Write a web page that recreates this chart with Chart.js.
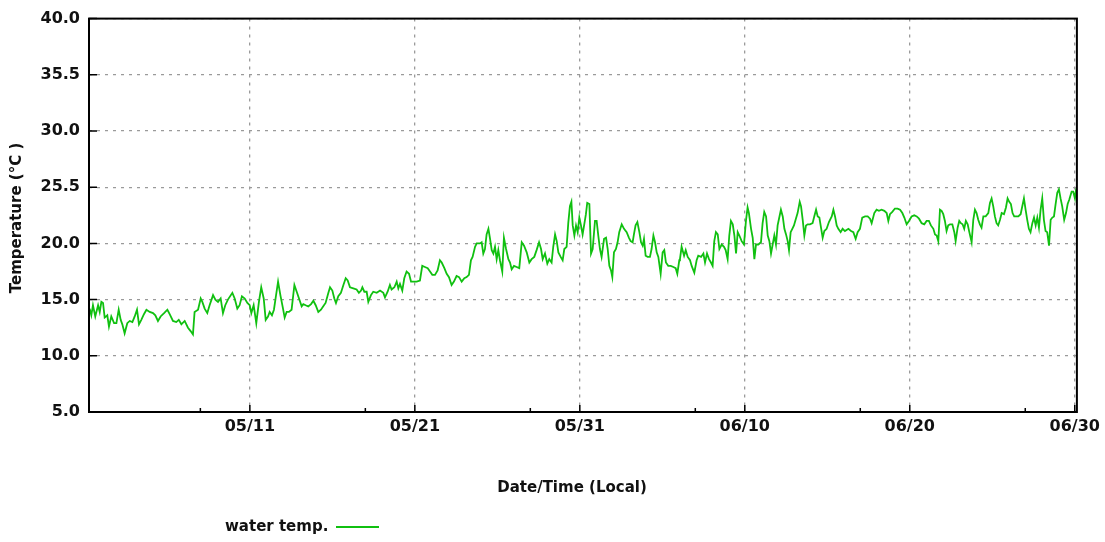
<!DOCTYPE html>
<html>
<head>
<meta charset="utf-8">
<script src="https://cdn.jsdelivr.net/npm/chart.js@4/dist/chart.umd.min.js"></script>
<style>
html,body{margin:0;padding:0;background:#fff;}
#wrap{width:1105px;height:542px;position:relative;}
canvas{display:block;}
</style>
</head>
<body>
<div id="wrap"><canvas id="c" width="1105" height="542"></canvas></div>
<script>
// Days since 05/01 00:00 (local)
const sampleDays = [
0.29,0.39,0.49,0.63,0.80,0.90,1.00,1.10,1.20,1.36,1.46,1.60,1.77,1.91,2.05,2.17,2.27,2.41,2.57,2.72,2.88,3.02,3.16,3.28,3.42,3.58,3.73,3.93,4.13,4.27,4.43,4.59,4.80,5.00,5.14,5.34,5.54,5.69,5.85,6.05,6.25,6.41,6.55,6.65,6.86,7.02,7.12,7.26,7.42,7.56,7.77,7.91,8.07,8.23,8.37,8.51,8.67,8.94,9.08,9.24,9.38,9.52,9.69,9.85,9.99,10.09,10.23,10.39,10.55,10.69,10.84,10.96,11.10,11.20,11.34,11.46,11.56,11.71,11.85,12.01,12.11,
12.23,12.37,12.53,12.70,12.84,12.98,13.14,13.24,13.38,13.54,13.71,13.85,13.99,14.15,14.31,14.45,14.59,14.76,14.86,15.00,15.12,15.22,15.36,15.52,15.67,15.81,15.93,16.07,16.27,16.47,16.61,16.74,16.82,16.94,17.08,17.18,17.34,17.48,17.69,17.89,18.09,18.19,18.35,18.49,18.59,18.76,18.90,19.00,19.10,19.24,19.36,19.50,19.65,19.77,19.91,20.11,20.31,20.45,20.61,20.78,20.92,21.06,21.22,21.38,21.52,21.63,21.79,21.93,22.07,22.23,22.37,22.53,22.68,22.84,23.00,23.14,23.28,23.40,23.50,23.65,23.75,23.95,
24.05,24.15,24.25,24.35,24.46,24.56,24.66,24.76,24.86,24.96,25.06,25.16,25.30,25.40,25.53,25.67,25.77,25.87,26.01,26.17,26.33,26.48,26.62,26.78,26.94,27.08,27.24,27.38,27.53,27.65,27.75,27.89,28.03,28.15,28.29,28.39,28.50,28.60,28.70,28.84,28.96,29.06,29.20,29.30,29.40,29.49,29.57,29.67,29.77,29.87,29.97,30.07,30.17,30.27,30.37,30.45,30.58,30.62,30.68,30.78,30.92,31.02,31.12,31.22,31.32,31.47,31.59,31.69,31.79,31.89,31.97,32.07,32.19,32.29,32.39,32.54,32.68,32.84,32.98,33.08,33.20,33.28,33.38,33.49,33.61,33.71,33.81,33.89,33.99,34.11,34.25,34.35,34.46,34.56,34.66,34.76,34.90,35.02,35.12,35.22,35.36,35.51,35.67,35.81,35.91,36.03,
36.07,36.17,36.32,36.42,36.54,36.68,36.78,36.94,37.08,37.18,37.35,37.49,37.59,37.71,37.83,37.95,38.05,38.15,38.25,38.36,38.46,38.60,38.74,38.84,38.96,39.06,39.16,39.27,39.37,39.47,39.57,39.67,39.81,39.95,40.07,40.17,40.25,40.38,40.48,40.58,40.68,40.82,40.98,41.08,41.18,41.29,41.39,41.49,41.59,41.69,41.79,41.89,41.99,42.09,42.19,42.30,42.40,42.50,42.60,42.68,42.78,42.88,42.98,43.08,43.20,43.33,43.41,43.51,43.61,43.71,43.81,43.95,44.11,44.21,44.32,44.42,44.52,44.62,44.72,44.82,44.96,45.10,45.27,45.37,45.47,45.57,45.67,45.81,45.93,46.07,46.28,46.44,46.58,46.72,46.84,46.98,47.12,47.29,47.45,47.59,47.69,47.85,47.99,
48.13,48.29,48.46,48.60,48.70,48.80,48.94,49.10,49.26,49.41,49.55,49.67,49.81,49.95,50.11,50.27,50.42,50.56,50.72,50.88,51.02,51.16,51.28,51.43,51.53,51.63,51.73,51.83,51.93,52.03,52.13,52.23,52.33,52.44,52.58,52.70,52.78,52.90,53.00,53.10,53.20,53.30,53.40,53.51,53.61,53.75,53.85,53.95,54.05,54.15,54.25,54.35,54.46,54.60,54.76,54.86,54.96,55.06,55.16,55.26,55.36,55.47,55.57,55.71,55.83,55.93,56.03,56.13,56.23,56.33,56.44,56.58,56.72,56.82,56.92,57.02,57.12,57.22,57.32,57.43,57.53,57.63,57.73,57.83,57.93,58.03,58.13,58.23,58.33,58.44,58.54,58.64,58.74,58.84,58.94,59.04,59.14,59.24,59.36,59.47,59.57,59.67,59.81,59.91,60.01,60.09
];

// Water temperature (°C)
const waterTemps = [
14.2,13.6,14.5,13.5,14.5,13.9,14.8,14.7,13.4,13.6,12.6,13.5,12.9,12.9,14.1,13.2,12.8,12.0,12.9,13.1,13.0,13.5,14.1,12.8,13.2,13.7,14.1,13.9,13.8,13.6,13.1,13.5,13.8,14.1,13.7,13.1,13.0,13.2,12.8,13.1,12.5,12.2,11.9,13.9,14.1,15.1,14.8,14.2,13.8,14.5,15.4,15.0,14.8,15.1,13.8,14.5,15.0,15.6,15.1,14.2,14.5,15.3,15.1,14.7,14.5,13.8,14.5,12.9,14.8,16.1,15.1,13.2,13.5,13.9,13.6,14.1,15.1,16.6,15.4,14.2,13.4,
13.9,13.9,14.1,16.3,15.7,15.1,14.4,14.6,14.5,14.4,14.6,14.9,14.5,13.9,14.1,14.4,14.7,15.6,16.1,15.8,15.1,14.7,15.3,15.6,16.3,16.9,16.7,16.1,16.0,15.9,15.6,15.8,16.1,15.7,15.7,14.8,15.4,15.7,15.6,15.8,15.6,15.2,15.7,16.3,15.9,16.1,16.6,16.0,16.4,15.8,16.9,17.5,17.3,16.6,16.6,16.6,16.7,18.0,17.9,17.8,17.5,17.2,17.2,17.6,18.5,18.3,17.8,17.3,17.0,16.3,16.6,17.1,17.0,16.6,16.9,17.0,17.2,18.5,18.8,19.7,20.0,20.0,
20.1,19.1,19.5,20.8,21.3,20.4,19.4,19.1,19.7,18.6,19.4,18.5,17.5,20.5,19.5,18.6,18.3,17.7,18.0,17.9,17.8,20.1,19.8,19.2,18.3,18.6,18.8,19.4,20.1,19.5,18.6,19.1,18.2,18.6,18.3,19.7,20.8,20.2,19.2,18.8,18.5,19.5,19.7,21.8,23.3,23.7,21.6,20.7,21.6,21.0,22.3,21.6,20.8,21.7,22.6,23.6,23.5,21.6,19.1,19.5,22.0,22.0,20.7,19.5,18.8,20.4,20.5,19.5,18.0,17.6,17.0,19.2,19.5,20.1,21.0,21.7,21.3,21.0,20.5,20.2,20.1,20.8,21.6,21.9,21.0,20.1,19.8,20.4,18.9,18.8,18.8,19.5,20.7,20.1,19.2,18.8,17.3,19.2,19.4,18.3,18.0,18.0,17.9,17.8,17.3,18.5,
18.6,19.7,18.9,19.4,18.8,18.5,18.0,17.4,18.5,18.9,18.8,19.1,18.3,19.1,18.6,18.3,18.0,20.2,21.0,20.8,19.5,19.9,19.7,19.4,18.6,20.7,22.0,21.7,20.7,19.1,21.0,20.7,20.2,19.9,22.0,23.2,22.7,21.3,20.5,18.6,19.9,19.9,20.1,21.8,22.8,22.4,20.7,20.2,19.1,19.9,20.7,19.9,21.6,22.3,23.0,22.4,21.3,20.8,20.2,19.4,21.0,21.3,21.6,22.1,22.7,23.7,23.3,22.1,20.7,21.6,21.7,21.7,21.8,22.4,23.0,22.4,22.3,21.4,20.5,21.1,21.3,21.9,22.4,23.0,22.4,21.6,21.3,21.0,21.3,21.1,21.3,21.1,21.0,20.4,21.0,21.3,22.3,22.4,22.4,22.2,21.8,22.7,23.0,
22.9,23.0,22.9,22.7,22.0,22.6,22.8,23.1,23.1,23.0,22.7,22.3,21.7,22.0,22.4,22.5,22.4,22.2,21.8,21.7,22.0,22.0,21.6,21.3,20.8,20.7,20.2,23.0,22.9,22.6,22.0,21.1,21.6,21.7,21.7,21.0,20.2,21.4,22.0,21.8,21.7,21.3,22.0,21.7,21.0,20.1,22.1,23.0,22.7,22.1,21.7,21.4,22.4,22.4,22.7,23.6,24.0,23.3,22.4,21.8,21.6,22.1,22.7,22.6,23.2,24.0,23.7,23.5,22.7,22.4,22.4,22.4,22.6,23.3,24.0,23.0,22.1,21.3,21.0,21.8,22.3,21.6,22.3,21.4,23.0,24.0,22.1,21.1,21.0,19.8,22.1,22.3,22.4,23.5,24.5,24.8,24.0,23.3,22.1,22.7,23.5,23.9,24.6,24.6,24.0,24.9
];

const seriesLabel = 'water temp.';
const xTickDays = [10, 20, 30, 40, 50, 60];
const xTickLabels = ['05/11', '05/21', '05/31', '06/10', '06/20', '06/30'];
const xMinorTickDays = [7, 17, 27, 37, 47, 57];
const yTickValues = [5, 10, 15, 20, 25, 30, 35, 40];
const yTickLabels = ['5.0', '10.0', '15.0', '20.0', '25.5', '30.0', '35.5', '40.0'];
const xTitle = 'Date/Time (Local)';
const yTitle = 'Temperature (\u00B0C )';

const lineColor = '#10c010';
const textColor = '#111111';
const tickFont = { family: 'DejaVu Sans', size: 16, weight: 'bold' };
const titleFontCss = 'bold 15px "DejaVu Sans"';

const points = sampleDays.map((d, i) => ({ x: d, y: waterTemps[i] }));

const framePlugin = {
  id: 'frame',
  afterDraw(chart) {
    const { ctx, chartArea: a, scales: { x, y } } = chart;
    ctx.save();
    ctx.strokeStyle = '#000';
    ctx.lineWidth = 1.5;
    ctx.beginPath();
    yTickValues.forEach(v => {
      const py = y.getPixelForValue(v);
      ctx.moveTo(a.left, py); ctx.lineTo(a.left + 8, py);
    });
    xTickDays.forEach(v => {
      const px = x.getPixelForValue(v);
      ctx.moveTo(px, a.bottom); ctx.lineTo(px, a.bottom - 7);
    });
    xMinorTickDays.forEach(v => {
      const px = x.getPixelForValue(v);
      ctx.moveTo(px, a.bottom); ctx.lineTo(px, a.bottom - 4);
    });
    ctx.stroke();
    ctx.lineWidth = 2;
    ctx.strokeRect(a.left, a.top, a.right - a.left, a.bottom - a.top);

    ctx.fillStyle = textColor;
    ctx.font = titleFontCss;
    ctx.textAlign = 'center';
    ctx.textBaseline = 'middle';
    ctx.fillText(xTitle, 572, 488);
    ctx.save();
    ctx.translate(17, 218);
    ctx.rotate(-Math.PI / 2);
    ctx.fillText(yTitle, 0, 0);
    ctx.restore();

    ctx.textAlign = 'left';
    ctx.fillText(seriesLabel, 225, 527);
    ctx.strokeStyle = lineColor;
    ctx.lineWidth = 2;
    ctx.beginPath();
    ctx.moveTo(336, 527); ctx.lineTo(379, 527);
    ctx.stroke();
    ctx.restore();
  }
};

new Chart(document.getElementById('c'), {
  type: 'line',
  data: {
    datasets: [{
      label: seriesLabel,
      data: points,
      borderColor: lineColor,
      borderWidth: 1.8,
      pointRadius: 0,
      tension: 0,
      fill: false
    }]
  },
  options: {
    responsive: false,
    animation: false,
    devicePixelRatio: 1,
    parsing: false,
    layout: { padding: { left: 0, top: 13, right: 28, bottom: 0 } },
    plugins: { legend: { display: false }, tooltip: { enabled: false } },
    scales: {
      x: {
        type: 'linear',
        min: 0.25,
        max: 60.13,
        afterBuildTicks: s => { s.ticks = xTickDays.map(v => ({ value: v })); },
        afterFit: s => { s.height = 130; },
        ticks: {
          autoSkip: false, maxRotation: 0, minRotation: 0,
          padding: 5,
          color: textColor,
          font: tickFont,
          callback: v => { const i = xTickDays.indexOf(v); return i >= 0 ? xTickLabels[i] : ''; }
        },
        grid: { drawTicks: false, color: '#9a9a9a', lineWidth: 1.3 },
        border: { display: false, dash: [3, 5] }
      },
      y: {
        min: 5,
        max: 40,
        afterBuildTicks: s => { s.ticks = yTickValues.map(v => ({ value: v })); },
        afterFit: s => { s.width = 89; },
        ticks: {
          padding: 9,
          color: textColor,
          font: tickFont,
          callback: v => { const i = yTickValues.indexOf(v); return i >= 0 ? yTickLabels[i] : ''; }
        },
        grid: { drawTicks: false, color: '#9a9a9a', lineWidth: 1.3 },
        border: { display: false, dash: [3, 5] }
      }
    }
  },
  plugins: [framePlugin]
});
</script>
</body>
</html>
